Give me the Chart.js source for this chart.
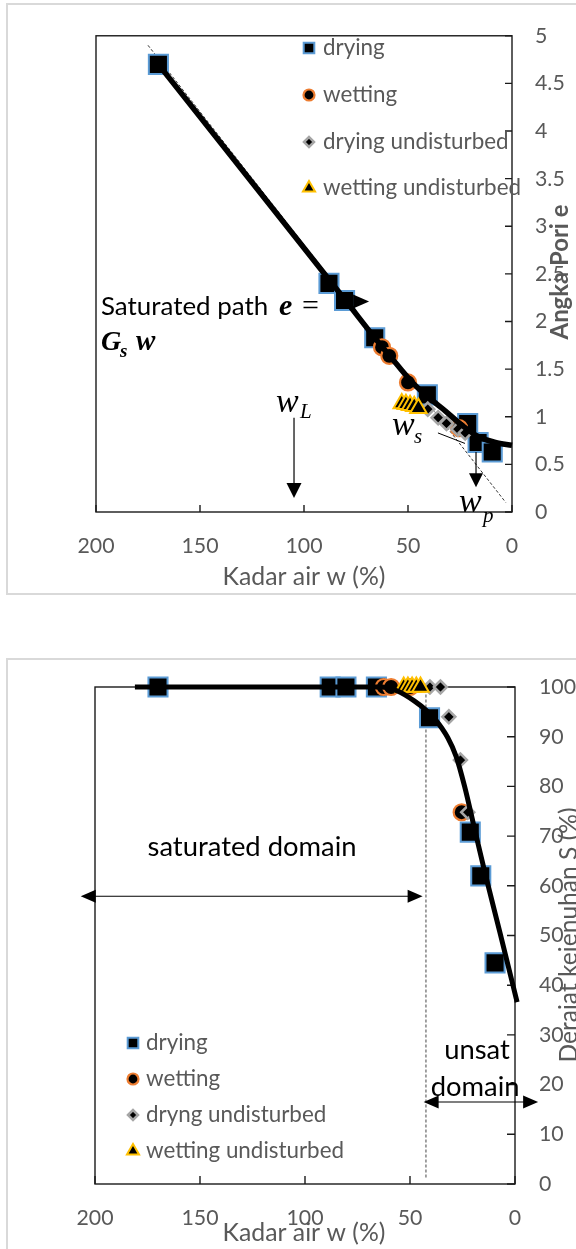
<!DOCTYPE html>
<html><head><meta charset="utf-8">
<script src="https://cdn.jsdelivr.net/npm/chart.js@4.4.1/dist/chart.umd.min.js"></script>
<style>
html,body{margin:0;padding:0;background:#fff;width:576px;height:1249px;overflow:hidden;position:relative;}
.frame{position:absolute;border:2px solid #d9d9d9;box-sizing:border-box;}
canvas{position:absolute;left:0;}
</style></head><body>
<div class="frame" style="left:6px;top:3px;width:620px;height:592px"></div>
<div class="frame" style="left:6px;top:658px;width:620px;height:640px"></div>
<canvas id="c1" width="576" height="600" style="top:0px"></canvas>
<canvas id="c2" width="576" height="609" style="top:640px"></canvas>
<script>
// ---------- data ----------
const wTicks = [200, 150, 100, 50, 0];
const eTicks = [0, 0.5, 1, 1.5, 2, 2.5, 3, 3.5, 4, 4.5, 5];
const sTicks = [0, 10, 20, 30, 40, 50, 60, 70, 80, 90, 100];

const legendTop = ['drying', 'wetting', 'drying undisturbed', 'wetting undisturbed'];
const legendBottom = ['drying', 'wetting', 'dryng undisturbed', 'wetting undisturbed'];

const dryW = [170, 88, 80.5, 66, 40.7, 21.3, 16.3, 9.5];
const dryE = [4.7, 2.4, 2.22, 1.83, 1.23, 0.93, 0.73, 0.63];
const dryS = [100, 100, 100, 100, 93.8, 70.8, 62, 44.5];

const wetW = [62.5, 59, 50, 25.4];
const wetE = [1.73, 1.64, 1.36, 0.88];
const wetS = [100, 100, 100, 74.8];

const dryUW = [40.5, 35.5, 31.5, 26, 22.5];
const dryUE = [1.08, 0.99, 0.93, 0.87, 0.83];
const dryUS = [100, 100, 94, 85.3, 74.8];

const wetUW = [53, 51, 49, 47, 45];
const wetUE = [1.14, 1.13, 1.12, 1.11, 1.09];
const wetUS = [100, 100, 100, 100, 100];

// fitted curves
const fitEW = [170, 80, 66, 55, 47, 40, 32, 24, 16, 8, 0];
const fitE  = [4.7, 2.22, 1.83, 1.54, 1.34, 1.2, 1.06, 0.91, 0.79, 0.73, 0.7];
const satW = [175, 3];
const satE = [4.9, 0.1];

const fitSW = [181, 64, 56, 48, 42, 38, 32, 28, 24, 19, 14.3, 7.1, -1];
const fitS  = [100, 100, 99.2, 97.2, 95.2, 93.5, 89.8, 86, 80, 71, 62.6, 50.5, 36.6];

// ---------- helpers ----------
const FONT = 'Lato, "Liberation Sans", sans-serif';
const MATH = '"Liberation Serif", "DejaVu Serif", serif';
const GRAY = '#595959';
const zip = (xs, ys) => xs.map((x, i) => ({x: x, y: ys[i]}));

const mctx = document.createElement('canvas').getContext('2d');
function fitSize(str, target, style, family) {
  mctx.font = (style ? style + ' ' : '') + '100px ' + family;
  return Math.round(1000 * target / mctx.measureText(str).width) / 10;
}
const TICK_SIZE = fitSize('200', 37, '', FONT);
const LEG_SIZE = fitSize('wetting undisturbed', 198, '', FONT);

const styles = [
  {pointStyle: 'rect', backgroundColor: '#000', borderColor: '#5b9bd5', borderWidth: 2, radius: 13.5, legR: 7.5},
  {pointStyle: 'circle', backgroundColor: '#000', borderColor: '#ed7d31', borderWidth: 2.2, radius: 8, legR: 5.5},
  {pointStyle: 'rectRot', backgroundColor: '#000', borderColor: '#a6a6a6', borderWidth: 2.5, radius: 6.5, legR: 5},
  {pointStyle: 'triangle', backgroundColor: '#000', borderColor: '#ffc000', borderWidth: 2, radius: 9.5, legR: 7}
];

function pointDs(label, data, st, order) {
  return {label, data, showLine: false, pointStyle: st.pointStyle, pointRadius: st.radius,
    pointBackgroundColor: st.backgroundColor, pointBorderColor: st.borderColor,
    pointBorderWidth: st.borderWidth, backgroundColor: st.backgroundColor, borderColor: st.borderColor,
    order, clip: false};
}

function tri(ctx, tx, ty, dir, len, half) {
  ctx.beginPath();
  if (dir === 'down') { ctx.moveTo(tx, ty); ctx.lineTo(tx - half, ty - len); ctx.lineTo(tx + half, ty - len); }
  if (dir === 'right') { ctx.moveTo(tx, ty); ctx.lineTo(tx - len, ty - half); ctx.lineTo(tx - len, ty + half); }
  if (dir === 'left') { ctx.moveTo(tx, ty); ctx.lineTo(tx + len, ty - half); ctx.lineTo(tx + len, ty + half); }
  ctx.closePath(); ctx.fillStyle = '#000'; ctx.fill();
}

function frameAndTicks(chart, tickLen) {
  const {ctx, chartArea: a, scales} = chart;
  ctx.save();
  ctx.strokeStyle = '#1a1a1a'; ctx.lineWidth = 1.4;
  ctx.strokeRect(a.left, a.top, a.right - a.left, a.bottom - a.top);
  ctx.beginPath();
  scales.x.ticks.forEach(t => { const x = scales.x.getPixelForValue(t.value); ctx.moveTo(x, a.bottom); ctx.lineTo(x, a.bottom - tickLen); });
  scales.y.ticks.forEach(t => { const y = scales.y.getPixelForValue(t.value); ctx.moveTo(a.right, y); ctx.lineTo(a.right - tickLen, y); });
  ctx.stroke();
  ctx.restore();
}

function drawLegend(chart, labels, x, ys, txtX) {
  const ctx = chart.ctx;
  ctx.save();
  labels.forEach((lab, i) => {
    const st = styles[i];
    ctx.fillStyle = st.backgroundColor; ctx.strokeStyle = st.borderColor; ctx.lineWidth = st.borderWidth;
    Chart.helpers.drawPoint(ctx, {pointStyle: st.pointStyle, radius: st.legR, rotation: 0, borderWidth: st.borderWidth}, x, ys[i]);
    ctx.font = LEG_SIZE + 'px ' + FONT; ctx.fillStyle = GRAY; ctx.textAlign = 'left'; ctx.textBaseline = 'middle';
    ctx.fillText(lab, txtX, ys[i]);
  });
  ctx.restore();
}

function text(ctx, s, x, y, font, color, align, base) {
  ctx.font = font; ctx.fillStyle = color || '#000'; ctx.textAlign = align || 'left'; ctx.textBaseline = base || 'middle';
  ctx.fillText(s, x, y);
  return ctx.measureText(s).width;
}
function fitText(ctx, s, x, y, target, style, family, color, align, base) {
  const size = fitSize(s, target, style, family);
  return text(ctx, s, x, y, (style ? style + ' ' : '') + size + 'px ' + family, color, align, base);
}
function mathText(ctx, s, x, yBase, size, style) {
  return text(ctx, s, x, yBase, style + ' ' + size + 'px ' + MATH, '#000', 'left', 'alphabetic');
}

function rotText(ctx, s, cx, cy, target, style, color) {
  const size = fitSize(s, target, style, FONT);
  ctx.save(); ctx.translate(cx, cy); ctx.rotate(-Math.PI / 2);
  ctx.font = (style ? style + ' ' : '') + size + 'px ' + FONT; ctx.fillStyle = color; ctx.textAlign = 'center'; ctx.textBaseline = 'middle';
  ctx.fillText(s, 0, 0); ctx.restore();
}

function scaleOpts(ticksArr, min, max, pos, extra) {
  return Object.assign({
    type: 'linear', position: pos, min, max,
    grid: {display: false, drawTicks: false}, border: {display: false},
    afterBuildTicks: s => { s.ticks = ticksArr.map(v => ({value: v})); },
    ticks: {color: GRAY, font: {family: FONT, size: TICK_SIZE}, autoSkip: false, maxRotation: 0,
      callback: v => String(v)}
  }, extra);
}

// ---------- chart 1 : void ratio ----------
const deco1 = {
  id: 'deco1',
  beforeDatasetsDraw(chart) { frameAndTicks(chart, 7); },
  afterDatasetsDraw(chart) {
    const {ctx, scales: {x, y}} = chart;
    ctx.save();
    // arrow head on saturated path
    tri(ctx, x.getPixelForValue(68.7), y.getPixelForValue(2.21), 'right', 16, 7);
    // w_L arrow
    ctx.strokeStyle = '#000'; ctx.lineWidth = 1.2;
    let ax = x.getPixelForValue(104.8);
    ctx.beginPath(); ctx.moveTo(ax, y.getPixelForValue(0.99)); ctx.lineTo(ax, y.getPixelForValue(0.146) - 14); ctx.stroke();
    tri(ctx, ax, y.getPixelForValue(0.146), 'down', 15, 7.5);
    // w_p arrow
    ax = x.getPixelForValue(17.3);
    ctx.beginPath(); ctx.moveTo(ax, y.getPixelForValue(0.63)); ctx.lineTo(ax, y.getPixelForValue(0.26) - 13); ctx.stroke();
    tri(ctx, ax, y.getPixelForValue(0.26), 'down', 14, 7);
    // w_s pointer
    ctx.lineWidth = 1;
    ctx.beginPath(); ctx.moveTo(x.getPixelForValue(35.6), y.getPixelForValue(0.83)); ctx.lineTo(x.getPixelForValue(22.6), y.getPixelForValue(0.72)); ctx.stroke();

    // texts
    fitText(ctx, 'Saturated path', 101, 315, 167, '', FONT, '#000', 'left', 'alphabetic');
    mathText(ctx, 'e', 279, 315, 30, 'italic bold');
    mathText(ctx, '=', 302, 315, 30, '');
    mathText(ctx, 'G', 101, 350, 28, 'italic bold');
    mathText(ctx, 's', 120, 357, 19, 'italic bold');
    mathText(ctx, 'w', 136, 350, 29, 'italic bold');

    mathText(ctx, 'w', 276, 412, 34, 'italic');
    mathText(ctx, 'L', 300, 418, 21, 'italic');
    mathText(ctx, 'w', 392, 435, 34, 'italic');
    mathText(ctx, 's', 414, 443, 21, 'italic');
    mathText(ctx, 'w', 459, 512, 34, 'italic');
    mathText(ctx, 'p', 483, 522, 21, 'italic');

    // legend
    drawLegend(chart, legendTop, 309, [48, 95, 142, 188], 323);
    // axis titles
    fitText(ctx, 'Kadar air w (%)', 304, 577, 163, '', FONT, GRAY, 'center');
    rotText(ctx, 'Angka Pori e', 560, 272, 135, 'bold', GRAY);
    ctx.restore();
  }
};

new Chart(document.getElementById('c1'), {
  type: 'scatter',
  data: {datasets: [
    {label: 'fit', data: zip(fitEW, fitE), showLine: true, borderColor: '#000', borderWidth: 5.5, pointRadius: 0, cubicInterpolationMode: 'monotone', order: 0, clip: false},
    {label: 'saturated', data: zip(satW, satE), showLine: true, borderColor: '#333', borderWidth: 1, borderDash: [3, 2], pointRadius: 0, order: 6, clip: false},
    pointDs(legendTop[0], zip(dryW, dryE), styles[0], 5),
    pointDs(legendTop[1], zip(wetW, wetE), styles[1], 4),
    pointDs(legendTop[2], zip(dryUW, dryUE), styles[2], 3),
    pointDs(legendTop[3], zip(wetUW, wetUE), styles[3], 2)
  ]},
  options: {
    responsive: false, animation: false, devicePixelRatio: 1,
    layout: {padding: {left: 96, top: 34, right: 0, bottom: 0}},
    plugins: {legend: {display: false}, tooltip: {enabled: false}},
    scales: {
      x: scaleOpts(wTicks, 0, 200, 'bottom', {reverse: true, afterFit: s => { s.height = 88; }}),
      y: scaleOpts(eTicks, 0, 5, 'right', {afterFit: s => { s.width = 64; }})
    }
  },
  plugins: [deco1]
});
Chart.getChart('c1').options.scales.x.ticks.padding = 21;
Chart.getChart('c1').options.scales.y.ticks.padding = 23;
Chart.getChart('c1').options.scales.y.ticks.crossAlign = 'near';
Chart.getChart('c1').update();

// ---------- chart 2 : saturation ----------
const deco2 = {
  id: 'deco2',
  beforeDatasetsDraw(chart) {
    frameAndTicks(chart, 8);
    const {ctx, scales: {x, y}} = chart;
    ctx.save();
    ctx.strokeStyle = '#444'; ctx.lineWidth = 1; ctx.setLineDash([3, 2]);
    const vx = x.getPixelForValue(42.4);
    ctx.beginPath(); ctx.moveTo(vx, y.getPixelForValue(100.5)); ctx.lineTo(vx, y.getPixelForValue(1.2)); ctx.stroke();
    ctx.restore();
  },
  afterDatasetsDraw(chart) {
    const {ctx, scales: {x, y}} = chart;
    ctx.save();
    ctx.strokeStyle = '#000'; ctx.lineWidth = 1.2;
    // saturated domain double arrow
    let yy = y.getPixelForValue(57.9), l = x.getPixelForValue(206.8), r = x.getPixelForValue(44);
    ctx.beginPath(); ctx.moveTo(l + 10, yy); ctx.lineTo(r - 10, yy); ctx.stroke();
    tri(ctx, l, yy, 'left', 15, 6.5); tri(ctx, r, yy, 'right', 15, 6.5);
    // unsat double arrow
    yy = y.getPixelForValue(16.5); l = x.getPixelForValue(43.5); r = x.getPixelForValue(-11);
    ctx.beginPath(); ctx.moveTo(l + 10, yy); ctx.lineTo(r - 10, yy); ctx.stroke();
    tri(ctx, l, yy, 'left', 15, 6.5); tri(ctx, r, yy, 'right', 15, 6.5);

    const dsz = fitSize('saturated domain', 209, '', FONT);
    text(ctx, 'saturated domain', x.getPixelForValue(125.2), y.getPixelForValue(67.8), dsz + 'px ' + FONT, '#000', 'center');
    text(ctx, 'unsat', x.getPixelForValue(18.1), y.getPixelForValue(27), dsz + 'px ' + FONT, '#000', 'center');
    text(ctx, 'domain', x.getPixelForValue(19), y.getPixelForValue(19.5), dsz + 'px ' + FONT, '#000', 'center');

    drawLegend(chart, legendBottom, 133, [403, 439, 475, 511], 146);
    fitText(ctx, 'Kadar air w (%)', 304, 593, 163, '', FONT, GRAY, 'center');
    rotText(ctx, 'Derajat kejenuhan S (%)', 569, 295, 255, '', GRAY);
    ctx.restore();
  }
};

new Chart(document.getElementById('c2'), {
  type: 'scatter',
  data: {datasets: [
    {label: 'fit', data: zip(fitSW, fitS), showLine: true, borderColor: '#000', borderWidth: 5, pointRadius: 0, cubicInterpolationMode: 'monotone', order: 0, clip: false},
    pointDs(legendBottom[0], zip(dryW, dryS), styles[0], 5),
    pointDs(legendBottom[1], zip(wetW, wetS), styles[1], 4),
    pointDs(legendBottom[2], zip(dryUW, dryUS), styles[2], 3),
    pointDs(legendBottom[3], zip(wetUW, wetUS), styles[3], 2)
  ]},
  options: {
    responsive: false, animation: false, devicePixelRatio: 1,
    layout: {padding: {left: 95, top: 47, right: 0, bottom: 0}},
    plugins: {legend: {display: false}, tooltip: {enabled: false}},
    scales: {
      x: scaleOpts(wTicks, 0, 200, 'bottom', {reverse: true, afterFit: s => { s.height = 65; }}),
      y: scaleOpts(sTicks, 0, 100, 'right', {afterFit: s => { s.width = 61; }})
    }
  },
  plugins: [deco2]
});
Chart.getChart('c2').options.scales.x.ticks.padding = 21;
Chart.getChart('c2').options.scales.y.ticks.padding = 24;
Chart.getChart('c2').options.scales.y.ticks.crossAlign = 'near';
Chart.getChart('c2').update();
</script>
</body></html>
